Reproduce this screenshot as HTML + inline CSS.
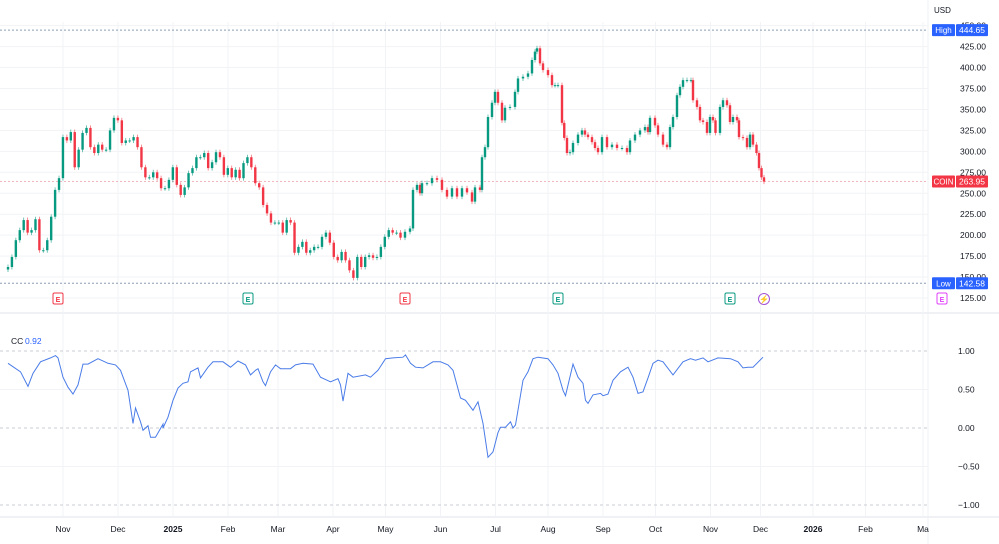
<!DOCTYPE html>
<html><head><meta charset="utf-8"><style>
html,body{margin:0;padding:0;background:#fff;}
svg{display:block;font-family:"Liberation Sans",sans-serif;}
</style></head><body>
<svg id="chart" width="999" height="544" viewBox="0 0 999 544" xmlns="http://www.w3.org/2000/svg">
<rect x="0" y="0" width="999" height="544" fill="#fff"/>
<text x="934" y="13" font-size="8" fill="#131722">USD</text>
<g id="grid"></g>
<g id="overlays"></g>
<g id="candles"></g>
<g id="cc"></g>
<g id="axes"></g>
</svg>
<script>
const closes=[162,174,194,206,218,203,206,219,182,182,194,222,254,268,317,313,323,281,302,322,328,305,298,308,302,302,325,340,337,310,313,313,317,305,281,269,269,275,268,256,256,266,281,260,248,257,274,280,293,293,298,280,287,299,293,272,280,269,278,268,286,293,281,262,257,236,226,215,215,215,203,218,215,179,186,192,179,182,186,186,198,203,191,174,170,180,170,158,149,174,162,174,176,173,174,186,198,206,203,203,197,
204,208,254,260,250,262,262,268,266,254,246,256,246,256,251,240,257,254,293,305,341,358,371,358,337,352,353,371,387,389,393,409,419,423,405,397,391,379,379,379,334,316,298,299,310,320,325,320,317,311,304,299,317,305,308,304,304,299,313,320,325,329,323,340,331,320,308,305,329,341,367,377,385,385,385,361,353,337,335,322,341,337,322,353,361,355,335,341,337,317,316,305,320,308,298,280,269,263.95];
const lateDays=[158.8,160.8,162,163.6,164.8,165.6,167.6,169.6,171.6,173.6,175.6,177.6,179.6,181.6,183.6,185.6,186.8,188.8,189.6,190.8,192,193.6,194.8,196,197.6,198.8,200.8,202.8,204,206,208,209.6,210.8,211.6,212.8,214,216,217.6,218.8,220,221.6,222.5,223.6,224.8,226,228,229.6,230.8,232,233.6,234.8,236,237.6,239.6,241.6,243.6,245.6,247.6,248.8,250.8,252.8,254.8,256,256.8,258.8,260,262,263.6,264.8,266,267.6,268.8,270,271.6,273.2,274,275.6,276.8,278,279.6,280.8,282,283,284.8,286,287.6,288.8,290,291.6,292.4,294,295.6,296.8,298,299.4,300.4,301.4,302.4];
const ccDays=[0,5,8,10,13,17,19,20,22,24,26,28,30,32,36,40,43,45,48,50,51,53,54,56,57,59,62,62,64,66,68,70,72,73,76,77,80,82,86,89,92,95,97,99,100,102,103,105,107,109,113,115,118,122,125,129,132,133,134,136,138,143,145,148,151,154,158,159,161,163,166,170,173,176,178,181,183,186,188,190,192,194,196,197,199,201,202,203,206,208,210,212,216,218,220,222,223,226,228,230,231,232,234,237,238,240,242,245,248,250,252,254,256,258,260,262,266,270,273,275,278,280,284,289,292,294,296,298,302];
const ccVals=[0.84,0.73,0.54,0.71,0.86,0.91,0.94,0.91,0.66,0.53,0.44,0.56,0.83,0.83,0.90,0.84,0.82,0.75,0.49,0.06,0.26,0.08,-0.03,0.03,-0.12,-0.12,0.05,0.00,0.14,0.36,0.52,0.58,0.60,0.73,0.78,0.65,0.79,0.86,0.86,0.79,0.87,0.82,0.69,0.75,0.77,0.60,0.55,0.73,0.82,0.77,0.77,0.82,0.84,0.83,0.66,0.60,0.64,0.56,0.35,0.71,0.66,0.69,0.66,0.75,0.90,0.91,0.92,0.95,0.84,0.79,0.78,0.86,0.86,0.82,0.75,0.39,0.36,0.23,0.34,0.06,-0.38,-0.31,-0.06,0.01,0.01,0.08,0.00,0.04,0.62,0.73,0.90,0.92,0.90,0.82,0.71,0.49,0.42,0.83,0.66,0.58,0.36,0.32,0.43,0.45,0.42,0.44,0.62,0.73,0.79,0.66,0.45,0.47,0.65,0.84,0.88,0.86,0.69,0.86,0.90,0.88,0.91,0.86,0.91,0.90,0.86,0.78,0.79,0.79,0.92];
const priceTicks=[450,425,400,375,350,325,300,275,250,225,200,175,150,125];
const ccTicks=[1,0.5,0,-0.5,-1];
const monthLabels=["Nov","Dec","2025","Feb","Mar","Apr","May","Jun","Jul","Aug","Sep","Oct","Nov","Dec","2026","Feb","Ma"];
const monthDays=[22,44,66,88,108,130,151,173,195,216,238,259,281,301,322,343,366];
const highVal=444.65, lowVal=142.58, lastVal=263.95;

const NS="http://www.w3.org/2000/svg";
const py=p=>298-(p-125)*0.838;
const cy=v=>428-v*77;
const xd=d=>8+d*2.5;
function mk(tag,attrs,parent,text){const e=document.createElementNS(NS,tag);for(const k in attrs)e.setAttribute(k,attrs[k]);if(text!==undefined)e.textContent=text;parent.appendChild(e);return e;}
const grid=document.getElementById('grid'),ov=document.getElementById('overlays'),cg=document.getElementById('candles'),ccg=document.getElementById('cc'),ax=document.getElementById('axes');

mk('line',{x1:0,y1:313,x2:999,y2:313,stroke:'#e0e3eb'},grid);
mk('line',{x1:0,y1:517,x2:999,y2:517,stroke:'#e0e3eb'},grid);
mk('line',{x1:928,y1:0,x2:928,y2:544,stroke:'#eef0f4'},grid);
priceTicks.forEach(p=>{
  const y=py(p);
  const l=mk('line',{x1:0,y1:y,x2:928,y2:y,stroke:'#f2f3f6'},grid);
  
  
  const t=mk('text',{x:960,y:y+3,'font-size':8.5,fill:'#131722'},ax,p.toFixed(2));
  
  
});
monthLabels.forEach((m,i)=>{
  const x=xd(monthDays[i]);
  const l=mk('line',{x1:x,y1:22,x2:x,y2:517,stroke:'#f2f3f6'},grid);
  
  
  const t=mk('text',{x:x,y:532,'font-size':8.5,fill:'#131722','text-anchor':'middle','font-weight':(m==='2025'||m==='2026')?'bold':'normal'},ax,m);
  
  
});
ccTicks.forEach(v=>{
  const y=cy(v);
  const dashed=(v===1||v===0||v===-1);
  const l=mk('line',{x1:0,y1:y,x2:928,y2:y,stroke:dashed?'#c9cdd6':'#f2f3f6','stroke-dasharray':dashed?'3,3':'none'},grid);
  
  
  const t=mk('text',{x:958,y:y+3,'font-size':8.5,fill:'#131722'},ax,(v<0?'\u2212':'')+Math.abs(v).toFixed(2));
  
  
});
function hline(val,color,dash,name){const y=py(val);const l=mk('line',{x1:0,y1:y,x2:928,y2:y,stroke:color,'stroke-dasharray':dash},ov);return y;}
const yh=hline(highVal,'#8c9db3','2,2','high-line');
const yl=hline(lowVal,'#8c9db3','2,2','low-line');
const yc=hline(lastVal,'#f0b8bd','2,2','last-price-line');
function tag(y,label,val,col,name){
  const g=mk('g',{},ax);
  
  
  mk('rect',{x:932,y:y-6,width:23,height:12,fill:col,rx:1},g);
  mk('rect',{x:956,y:y-6,width:32,height:12,fill:col,rx:1},g);
  mk('text',{x:943.5,y:y+3,'font-size':8,fill:'#fff','text-anchor':'middle'},g,label);
  mk('text',{x:972,y:y+3,'font-size':8.5,fill:'#fff','text-anchor':'middle'},g,val.toFixed(2));
}
tag(yh,'High',highVal,'#2962ff','high-tag');
tag(yl,'Low',lowVal,'#2962ff','low-tag');
tag(yc,'COIN',lastVal,'#f23645','last-price-tag');
const n=closes.length, early=n-lateDays.length;
for(let i=0;i<n;i++){
  const c=closes[i],o=i===0?c-3:closes[i-1];
  const day=i<early? i*157/(early-1) : lateDays[i-early];
  const x=xd(day);
  const up=c>=o,col=up?'#089981':'#f23645';
  const hi=Math.max(o,c)+3,lo=Math.min(o,c)-3;
  const g=mk('g',{},cg);
  
  
  mk('line',{x1:x,y1:py(hi),x2:x,y2:py(lo),stroke:col,'stroke-width':0.8,opacity:0.7},g);
  const yt=py(Math.max(o,c)),yb=py(Math.min(o,c));
  mk('rect',{x:x-1.2,y:yt,width:2.4,height:Math.max(1,yb-yt),fill:col},g);
}
const evs=[[58,'#f23645','E'],[248,'#089981','E'],[405,'#f23645','E'],[558,'#089981','E'],[730,'#089981','E'],[942,'#e040fb','E']];
evs.forEach(e=>{
  const g=mk('g',{},ov);
  
  
  mk('rect',{x:e[0]-5,y:293,width:10,height:11,fill:'#fff',stroke:e[1],'stroke-width':1,rx:1.5},g);
  mk('text',{x:e[0],y:302,'font-size':7,fill:e[1],'text-anchor':'middle','font-weight':'bold'},g,e[2]);
});
const sp=mk('g',{},ov);


mk('circle',{cx:764,cy:299,r:5.5,fill:'#fff',stroke:'#a24fd6','stroke-width':1},sp);
mk('text',{x:764,y:302,'font-size':8,fill:'#a24fd6','text-anchor':'middle'},sp,'\u26A1');
let d='';
ccDays.forEach((dd,i)=>{d+=(i?'L':'M')+xd(dd).toFixed(1)+','+cy(ccVals[i]).toFixed(1);});
const p=mk('path',{d:d,fill:'none',stroke:'#4a7ce8','stroke-width':1},ccg);


const lbl=mk('text',{x:11,y:344,'font-size':8.5,fill:'#131722'},ax,'CC');


const lv=mk('text',{x:25,y:344,'font-size':8.5,fill:'#2962ff'},ax,ccVals[ccVals.length-1].toFixed(2));


</script>
</body></html>
